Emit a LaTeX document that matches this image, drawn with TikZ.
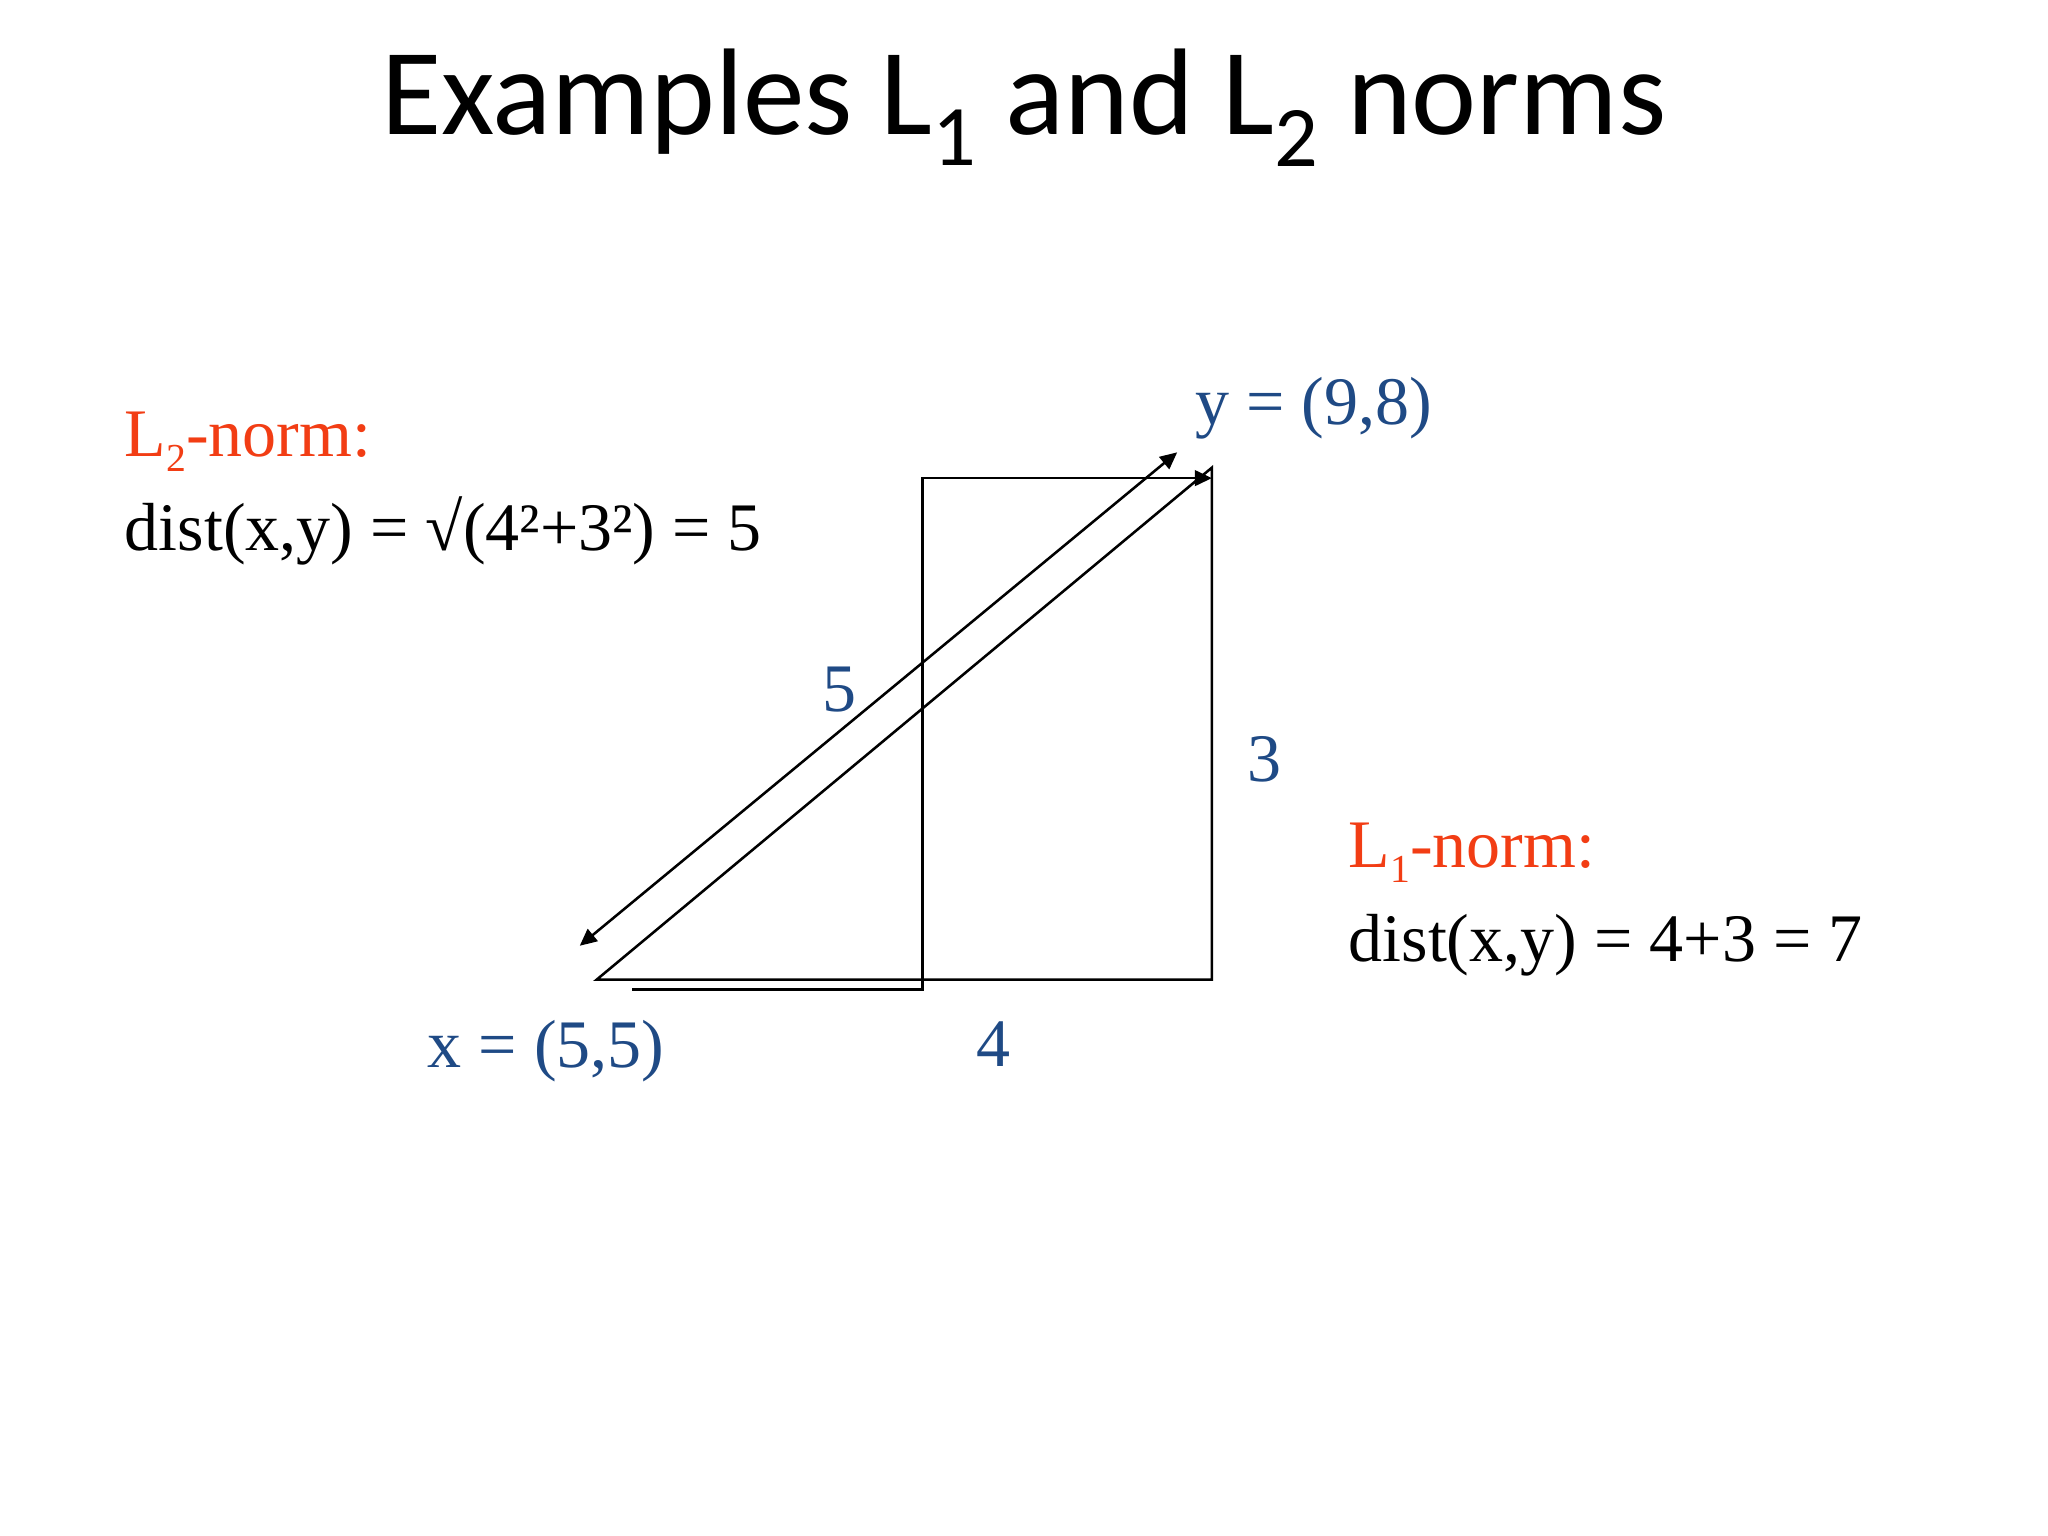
\documentclass[tikz,border=0pt]{standalone}
\usepackage{fontspec}
\setmainfont{Liberation Serif}
\newfontfamily\titlefont{Carlito}
\usepackage{xcolor}
\usepackage{tikz}
\usetikzlibrary{arrows.meta, positioning}

\definecolor{normred}{HTML}{F23D14}
\definecolor{ptblue}{HTML}{1F4A85}
\newcommand{\lowidx}[1]{\raisebox{-0.22em}{\fontsize{14}{14}\selectfont #1}}

\begin{document}
\begin{tikzpicture}[
  txt/.style={inner sep=0pt, font=\fontsize{24}{28}\selectfont, anchor=base west},
  lbl/.style={txt, text=ptblue},
  num/.style={lbl, anchor=base},
  edge/.style={line width=0.9pt},
  arrow/.style={edge, -{Triangle[length=6pt, width=5.5pt]}}
]
  \useasboundingbox[fill=white] (0,0) rectangle (25.4,19.05);

  % title
  \node[inner sep=0pt, anchor=base, font=\titlefont\fontsize{43.5}{50}\selectfont] (title) at (12.7,17.38)
    {Examples L\textsubscript{1} and L\textsubscript{2} norms};

  % points of the triangle
  \coordinate (a) at (7.40,6.90);
  \coordinate (b) at (15.03,13.25);
  \coordinate (c) at (15.03,6.90);

  % L1 route
  \coordinate (p0) at (7.84,6.78);
  \coordinate (p1) at (11.44,6.78);
  \coordinate (p2) at (11.44,13.12);
  \coordinate (p3) at (15.03,13.12);

  % L2 measure
  \coordinate (d1) at (7.19,7.32);
  \coordinate (d2) at (14.60,13.44);

  \draw[edge] (a) -- (b) -- (c) -- cycle;
  \draw[arrow] (p0) -- (p1) -- (p2) -- (p3);
  \draw[arrow, {Triangle[length=6pt, width=5.5pt]}-{Triangle[length=6pt, width=5.5pt]}] (d1) -- (d2);

  \node[lbl] (ylbl) at (14.82,13.79) {y = (9,8)};
  \node[lbl] (xlbl) at (5.30,5.81) {x = (5,5)};
  \node[num] (four) at (12.32,5.82) {4};
  \node[num] (five) at (10.41,10.23) {5};
  \node[num] (three) at (15.68,9.36) {3};

  \node[txt, text=normred] (l2) at (1.54,13.39) {L\lowidx{2}-norm:};
  \node[txt] (l2d) at (1.54,12.22) {dist(x,y) = √(4²+3²) = 5};
  \node[txt, text=normred] (l1) at (16.72,8.29) {L\lowidx{1}-norm:};
  \node[txt] (l1d) at (16.72,7.12) {dist(x,y) = 4+3 = 7};
\end{tikzpicture}
\end{document}
